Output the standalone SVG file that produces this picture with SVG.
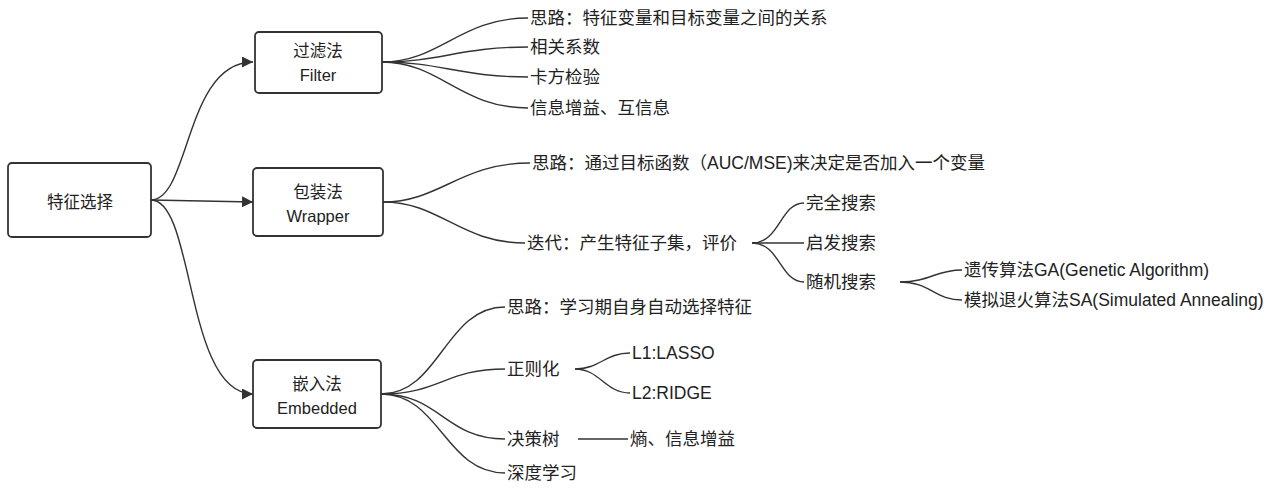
<svg xmlns="http://www.w3.org/2000/svg" width="1280" height="491" viewBox="0 0 1280 491">
<defs><marker id="ah" viewBox="0 0 10 10" refX="10" refY="5" markerWidth="11" markerHeight="11" markerUnits="userSpaceOnUse" orient="auto"><path d="M0,0L10,5L0,10z" fill="#333"/></marker></defs>
<style>
.box{fill:#fff;stroke:#333;stroke-width:1.8}
.c{fill:none;stroke:#333;stroke-width:1.4}
text{font-family:"Liberation Sans","Noto Sans CJK SC",sans-serif;fill:#222;font-size:17.5px}
.b{text-anchor:middle;font-size:16.5px}
</style>
<rect width="1280" height="491" fill="#fff"/>
<g id="connectors">
<path class="c" marker-end="url(#ah)" d="M151,200 C190,200 185,62 253,62"/>
<path class="c" marker-end="url(#ah)" d="M151,200 L253,202"/>
<path class="c" marker-end="url(#ah)" d="M151,200 C195,200 185,394 253,394"/>
<path class="c" d="M382,62 C440,62 460,18 528,18"/>
<path class="c" d="M382,62 C440,62 460,47 528,47"/>
<path class="c" d="M382,62 C440,62 460,77 528,77"/>
<path class="c" d="M382,62 C440,62 460,108 528,108"/>
<path class="c" d="M383,202 C440,202 460,163 530,163"/>
<path class="c" d="M383,202 C440,202 460,243 525,243"/>
<path class="c" d="M752,243 C780,243 780,203 804,203"/>
<path class="c" d="M752,243 L804,243"/>
<path class="c" d="M752,243 C780,243 780,282 804,282"/>
<path class="c" d="M900,282 C930,282 935,270 962,270"/>
<path class="c" d="M900,282 C930,282 935,300 962,300"/>
<path class="c" d="M381,394 C440,394 445,307 505,307"/>
<path class="c" d="M381,394 C440,394 445,369 505,369"/>
<path class="c" d="M381,394 C440,394 445,439 505,439"/>
<path class="c" d="M381,394 C440,394 445,473 505,473"/>
<path class="c" d="M575,369 C600,369 605,353 630,353"/>
<path class="c" d="M575,369 C600,369 605,393 630,393"/>
<path class="c" d="M578,439 L628,439"/>
</g>
<g id="root"><rect class="box" x="8" y="163" width="143" height="74" rx="4"/><text class="b" x="80" y="208" font-size="21">特征选择</text></g>
<g id="filter"><rect class="box" x="255" y="32" width="127" height="61" rx="4"/><text class="b" x="318" y="57">过滤法</text><text class="b" x="318" y="81">Filter</text></g>
<g id="wrapper"><rect class="box" x="253" y="168" width="130" height="68" rx="4"/><text class="b" x="318" y="198">包装法</text><text class="b" x="318" y="222">Wrapper</text></g>
<g id="embedded"><rect class="box" x="253" y="360" width="128" height="68" rx="4"/><text class="b" x="317" y="390">嵌入法</text><text class="b" x="317" y="414">Embedded</text></g>
<g id="leaves">
<text x="530" y="24">思路：特征变量和目标变量之间的关系</text>
<text x="530" y="53">相关系数</text>
<text x="530" y="83">卡方检验</text>
<text x="530" y="114">信息增益、互信息</text>
<text x="532" y="169">思路：通过目标函数（AUC/MSE)来决定是否加入一个变量</text>
<text x="527" y="249">迭代：产生特征子集，评价</text>
<text x="806" y="209">完全搜索</text>
<text x="806" y="249">启发搜索</text>
<text x="806" y="288">随机搜索</text>
<text x="964" y="276">遗传算法GA(Genetic Algorithm)</text>
<text x="964" y="306">模拟退火算法SA(Simulated Annealing)</text>
<text x="507" y="313">思路：学习期自身自动选择特征</text>
<text x="507" y="375">正则化</text>
<text x="632" y="359">L1:LASSO</text>
<text x="632" y="399">L2:RIDGE</text>
<text x="507" y="445">决策树</text>
<text x="630" y="445">熵、信息增益</text>
<text x="507" y="479">深度学习</text>
</g>
</svg>
